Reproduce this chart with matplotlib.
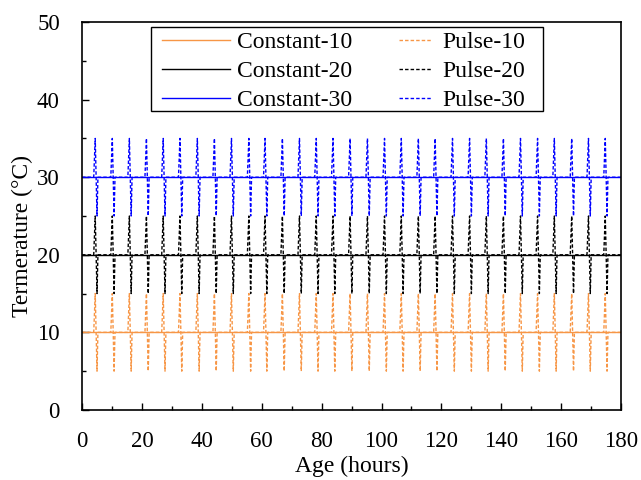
import matplotlib
matplotlib.use("Agg")
import matplotlib.pyplot as plt
from matplotlib.ticker import MultipleLocator
from matplotlib.patches import Rectangle

plt.rcParams["font.family"] = ["Liberation Serif", "DejaVu Serif"]

# Sabit sicaklik seviyeleri
seviyeler = [10, 20, 30]
renkler = ["#F79646", "#000000", "#0000FF"]

# Pulse tepe zamanlari (saat)
pulse_zamanlari = [4.4, 10.1, 15.8, 21.5, 27.1, 32.7, 38.5, 44.2, 49.9, 55.7,
                   61.1, 66.9, 72.6, 78.2, 83.8, 89.5, 95.3, 101.0, 106.6, 112.3,
                   117.9, 123.7, 129.4, 135.0, 140.7, 146.4, 152.1, 157.7, 163.5,
                   169.1, 174.7]
# bir pulse: ortalama -> tepe -> dip -> ortalama
pulse_dt = [-0.5, 0.0, 0.6, 0.9]
pulse_dT = [0, 5, -5, 0]

baslangic, bitis = 0, 180

fig = plt.figure(figsize=(6.41, 4.8), dpi=100)
ax = fig.add_axes([0.128, 0.146, 0.841, 0.808])

sabit_h = []
pulse_h = []
for sev, renk in zip(seviyeler, renkler):
    h, = ax.plot([baslangic, bitis], [sev, sev], color=renk, lw=1.0,
                 label=f"Constant-{sev}")
    sabit_h.append(h)

    xs = [baslangic]
    ys = [sev]
    for t in pulse_zamanlari:
        for dt, dT in zip(pulse_dt, pulse_dT):
            xs.append(t + dt)
            ys.append(sev + dT)
    xs.append(bitis)
    ys.append(sev)
    h2, = ax.plot(xs, ys, color=renk, lw=1.0, ls=(0, (2.5, 1.5)),
                  label=f"Pulse-{sev}")
    pulse_h.append(h2)

ax.set_xlim(0, 180)
ax.set_ylim(0, 50)
ax.xaxis.set_major_locator(MultipleLocator(20))
ax.xaxis.set_minor_locator(MultipleLocator(10))
ax.yaxis.set_major_locator(MultipleLocator(10))
ax.yaxis.set_minor_locator(MultipleLocator(5))
ax.tick_params(which="both", direction="in", top=False, right=False,
               labelsize=16.5)
ax.tick_params(axis="x", pad=15)
ax.tick_params(axis="y", pad=16)
ax.tick_params(which="major", length=5, width=1)
ax.tick_params(which="minor", length=3, width=1)
for sp in ax.spines.values():
    sp.set_linewidth(1.2)

ax.set_xlabel("Age (hours)", fontsize=17, labelpad=3)
ax.set_ylabel("Termerature (°C)", fontsize=17)
ax.yaxis.set_label_coords(-0.091, 0.448)

# lejant: iki sutun ayri, ortak cerceve
ortak = dict(fontsize=17, frameon=False, loc="upper left", borderpad=0,
             borderaxespad=0, labelspacing=0.31)
leg1 = ax.legend(sabit_h, [h.get_label() for h in sabit_h],
                 bbox_to_anchor=(0.148, 0.975), handlelength=2.88,
                 handletextpad=0.3, **ortak)
ax.add_artist(leg1)
leg2 = ax.legend(pulse_h, [h.get_label() for h in pulse_h],
                 bbox_to_anchor=(0.588, 0.975), handlelength=1.4,
                 handletextpad=0.42, **ortak)
ax.add_patch(Rectangle((0.128, 0.771), 0.727, 0.216, transform=ax.transAxes,
                       fill=True, facecolor="white", edgecolor="black",
                       lw=1.0, zorder=4))
leg1.set_zorder(5)
leg2.set_zorder(5)

plt.savefig("out.png", dpi=100)
plt.close()
